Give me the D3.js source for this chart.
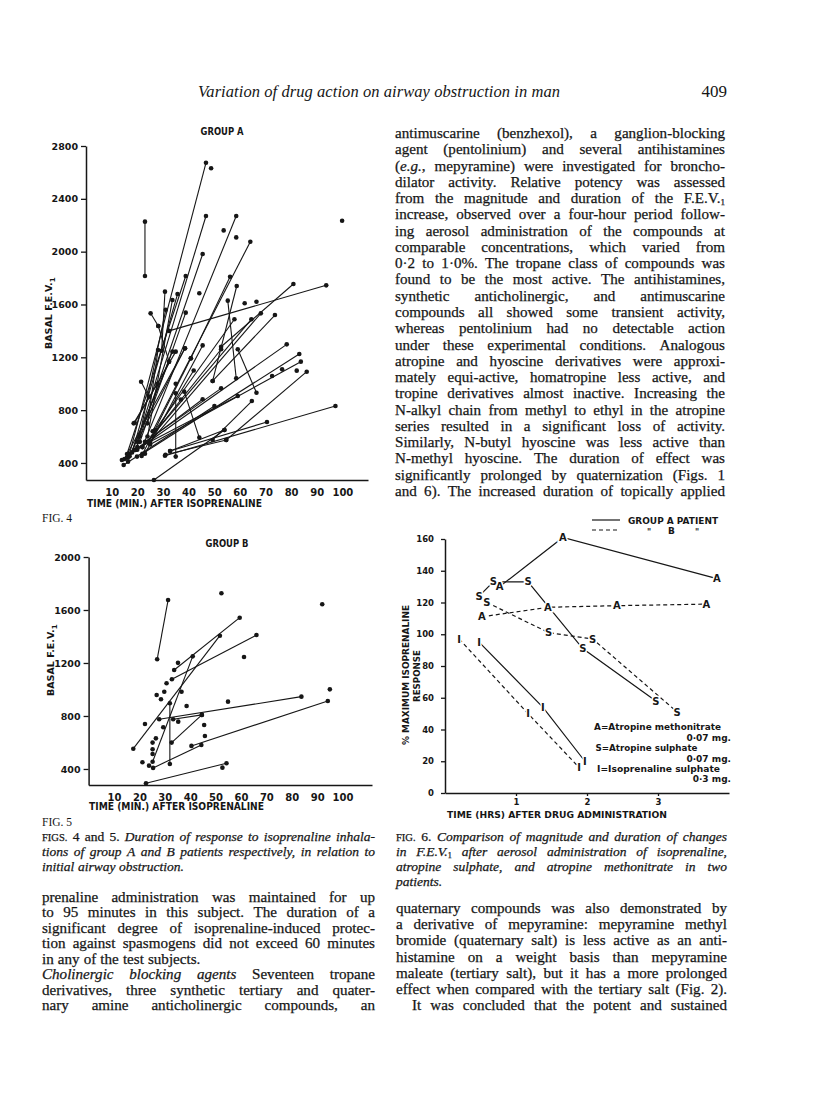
<!DOCTYPE html>
<html>
<head>
<meta charset="utf-8">
<script src="https://cdn.jsdelivr.net/npm/d3@7"></script>
<style>
  body { margin: 0; background: #fff; }
  svg { display: block; }
</style>
</head>
<body>
<div id="page"></div>
<script>
// ---- fig 4 : group A (time in min, basal FEV1 in ml) ----
const fig4YTicks = [400, 800, 1200, 1600, 2000, 2400, 2800];
const fig4XTicks = [10, 20, 30, 40, 50, 60, 70, 80, 90, 100];
const fig4Segments = [
  [23, 2227, 23, 1816], [17, 470, 46.8, 2673], [20, 560, 46.8, 2270],
  [22, 520, 58.6, 2270], [26, 640, 64.1, 2075], [19.3, 498, 45.5, 1982],
  [40.9, 1192, 56.2, 1810], [49.4, 1021, 58.8, 1740], [52.7, 1280, 80.9, 1755],
  [32.4, 1400, 93.7, 1745], [30.8, 1697, 29.5, 1250], [18, 480, 35.7, 1679],
  [16, 468, 38.9, 1816], [21, 560, 38.9, 1538], [33.7, 1634, 24, 600],
  [25.2, 1533, 28.2, 1437], [28.2, 1437, 32.4, 1167], [55.3, 1629, 58.6, 1041],
  [57.9, 1488, 27, 650], [64.5, 1488, 22, 520], [68.2, 1533, 25, 560],
  [73.7, 1520, 49.4, 1021], [59.2, 1261, 66.5, 932], [78.3, 1298, 20, 500],
  [83.2, 1225, 22, 470], [83.8, 1167, 25, 540], [86.1, 1091, 54.7, 574],
  [97.3, 831, 30.8, 455], [70.6, 710, 32.8, 491], [54, 650, 26.5, 271],
  [44.2, 592, 38.3, 940], [35, 448, 35, 927], [21.5, 1015, 24.5, 902],
  [64.7, 869, 49.4, 574], [59.2, 907, 19, 500], [14, 423, 45.5, 882],
  [14.7, 385, 50.1, 831], [16.4, 410, 33.7, 1243], [19, 705, 35, 1243],
  [21.7, 453, 40.9, 1192], [28.1, 1255, 24, 700], [38.6, 1268, 21, 600],
  [52.7, 965, 23, 560], [17, 450, 32.4, 1167], [32.8, 491, 54, 650],
  [31, 462, 54.7, 574], [15, 430, 38.6, 1268], [23, 470, 45.5, 1290],
  [20, 520, 31.1, 1560], [24, 560, 52.7, 1261], [18.6, 700, 27.8, 1000],
  [26, 600, 42, 1100]
];
const fig4Points = [
  [48.8, 2631], [53.7, 2161], [58.6, 2108], [44.2, 1685], [61.9, 1609],
  [99.9, 2234], [76.5, 1109], [72.6, 1059], [82.2, 1099], [66.5, 1621],
  [16, 440], [19.9, 448], [35, 1000], [37, 880]
];

// ---- fig 5 : group B ----
const fig5YTicks = [400, 800, 1200, 1600, 2000];
const fig5XTicks = [10, 20, 30, 40, 50, 60, 70, 80, 90, 100];
const fig5Segments = [
  [31.3, 1675, 27, 1228], [59.5, 1542, 33.7, 1147], [66.1, 1411, 32.8, 1077],
  [17.6, 553, 51.7, 1406], [25.2, 455, 41, 1250], [32, 896, 32, 438],
  [27.8, 775, 83.8, 946], [33.3, 775, 44.6, 808], [44.6, 808, 32.7, 599],
  [94.2, 913, 40.5, 574], [44.4, 581, 25.4, 408], [22.6, 292, 54.3, 443]
];
const fig5Points = [
  [52.3, 1726], [92, 1643], [35.2, 1201], [61.2, 1245], [30.7, 1047],
  [26.8, 958], [29.8, 983], [36.6, 983], [28.5, 926], [38.6, 875],
  [54.9, 908], [95, 1001], [22.2, 739], [35.3, 757], [45.5, 732],
  [29.4, 715], [26.5, 631], [25.2, 599], [45.8, 649], [25.2, 549],
  [25.2, 513], [21.2, 451], [23.8, 425], [52.7, 410]
];

// ---- fig 6 : % max isoprenaline response vs hours ----
const fig6YTicks = [0, 20, 40, 60, 80, 100, 120, 140, 160];
const fig6XTicks = [1, 2, 3];
const patientA_atropineMethonitrate = [[0.77, 130], [1.66, 161], [3.83, 135]];
const patientA_atropineSulphate = [[0.48, 124], [0.68, 133], [1.17, 133], [1.94, 91], [2.97, 58]];
const patientA_isoprenaline = [[0.48, 95], [1.38, 54], [1.97, 20]];
const patientB_atropineMethonitrate = [[0.52, 111], [1.45, 117], [2.42, 118], [3.68, 119]];
const patientB_atropineSulphate = [[0.59, 120], [1.46, 101], [2.08, 97], [3.27, 51]];
const patientB_isoprenaline = [[0.2, 97], [1.17, 50], [1.89, 16]];
const fig6Key = [
  ['A=Atropine methonitrate', '0·07 mg.'],
  ['S=Atropine sulphate', '0·07 mg.'],
  ['I=Isoprenaline sulphate', '0·3 mg.']
];

// ---- page text ----  *italic*  ~small caps~  _subscript_  ¶ = not justified  » = indent
const runningHead = 'Variation of drug action on airway obstruction in man';
const pageNumber = '409';
const rightTopText = [
  'antimuscarine (benzhexol), a ganglion-blocking',
  'agent (pentolinium) and several antihistamines',
  '(*e.g.*, mepyramine) were investigated for broncho-',
  'dilator activity. Relative potency was assessed',
  'from the magnitude and duration of the F.E.V._1_',
  'increase, observed over a four-hour period follow-',
  'ing aerosol administration of the compounds at',
  'comparable concentrations, which varied from',
  '0·2 to 1·0%. The tropane class of compounds was',
  'found to be the most active. The antihistamines,',
  'synthetic anticholinergic, and antimuscarine',
  'compounds all showed some transient activity,',
  'whereas pentolinium had no detectable action',
  'under these experimental conditions. Analogous',
  'atropine and hyoscine derivatives were approxi-',
  'mately equi-active, homatropine less active, and',
  'tropine derivatives almost inactive. Increasing the',
  'N-alkyl chain from methyl to ethyl in the atropine',
  'series resulted in a significant loss of activity.',
  'Similarly, N-butyl hyoscine was less active than',
  'N-methyl hyoscine. The duration of effect was',
  'significantly prolonged by quaternization (Figs. 1',
  'and 6). The increased duration of topically applied'
];
const leftCaption = [
  '~FIGS.~ 4 and 5. *Duration of response to isoprenaline inhala-*',
  '*tions of group A and B patients respectively, in relation to*',
  '*initial airway obstruction.*¶'
];
const leftBody = [
  'prenaline administration was maintained for up',
  'to 95 minutes in this subject. The duration of a',
  'significant degree of isoprenaline-induced protec-',
  'tion against spasmogens did not exceed 60 minutes',
  'in any of the test subjects.¶',
  '*Cholinergic blocking agents* Seventeen tropane',
  'derivatives, three synthetic tertiary and quater-',
  'nary amine anticholinergic compounds, an'
];
const rightCaption = [
  '~FIG.~ 6. *Comparison of magnitude and duration of changes*',
  '*in F.E.V.*_1_ *after aerosol administration of isoprenaline,*',
  '*atropine sulphate, and atropine methonitrate in two*',
  '*patients.*¶'
];
const rightBody = [
  'quaternary compounds was also demonstrated by',
  'a derivative of mepyramine: mepyramine methyl',
  'bromide (quaternary salt) is less active as an anti-',
  'histamine on a weight basis than mepyramine',
  'maleate (tertiary salt), but it has a more prolonged',
  'effect when compared with the tertiary salt (Fig. 2).',
  '»It was concluded that the potent and sustained'
];

const INK = '#161616';
const LET = '"DejaVu Sans", sans-serif';
const SERIF = '"Liberation Serif", "Times New Roman", serif';

const svg = d3.select('#page').append('svg').attr('width', 816).attr('height', 1112);
svg.append('rect').attr('width', 816).attr('height', 1112).attr('fill', '#fff');

// ---------- text helpers ----------
function parseWords(s) {
  let words = [], runs = [], buf = '', it = false, sc = false, sub = false;
  const flush = () => { if (buf) runs.push({ t: buf, it, sc, sub }); buf = ''; };
  for (const ch of s) {
    if (ch === '*') { flush(); it = !it; continue; }
    if (ch === '~') { flush(); sc = !sc; continue; }
    if (ch === '_') { flush(); sub = !sub; continue; }
    if (ch === ' ') { flush(); if (runs.length) words.push(runs); runs = []; continue; }
    buf += ch;
  }
  flush();
  if (runs.length) words.push(runs);
  return words;
}

function textBlock(lines, o) {
  lines.forEach((raw, i) => {
    let s = raw, just = o.justify, x0 = o.x, w = o.w;
    if (s.endsWith('¶')) { s = s.slice(0, -1); just = false; }
    if (s.startsWith('»')) { s = s.slice(1); x0 += o.indent; w -= o.indent; }
    const y = o.y0 + i * o.lh;
    const nodes = parseWords(s).map(runs => {
      const t = svg.append('text').attr('y', y).attr('fill', INK)
        .attr('stroke', INK).attr('stroke-width', 0.25)
        .style('font-family', SERIF).style('font-size', o.size + 'px');
      let shifted = false;
      runs.forEach(r => {
        const ts = t.append('tspan').text(r.t);
        if (r.it) ts.style('font-style', 'italic');
        if (r.sc) ts.style('font-size', (o.size * 0.78) + 'px');
        if (r.sub) { ts.style('font-size', (o.size * 0.6) + 'px').attr('dy', 2); shifted = true; }
        else if (shifted) { ts.attr('dy', -2); shifted = false; }
      });
      return { t, len: t.node().getComputedTextLength() };
    });
    const total = d3.sum(nodes, n => n.len);
    const minGap = o.size * 0.17;
    let gap = just && nodes.length > 1 ? (w - total) / (nodes.length - 1) : o.size * 0.27;
    let squeeze = 1;
    if (gap < minGap) {
      // too long for the measure: keep a minimum word space, tighten the words
      squeeze = (w - minGap * (nodes.length - 1)) / total;
      gap = minGap;
    }
    let x = x0;
    nodes.forEach(n => {
      n.t.attr('x', x);
      if (squeeze < 1) n.t.attr('textLength', n.len * squeeze).attr('lengthAdjust', 'spacingAndGlyphs');
      x += n.len * squeeze + gap;
    });
  });
}

function letter(g, txt, x, y, size, opts = {}) {
  const t = g.append('text').attr('x', x).attr('y', y).attr('fill', INK)
    .style('font-family', LET).style('font-weight', 'bold').style('font-size', size + 'px')
    .attr('text-anchor', opts.anchor || 'start').text(txt);
  if (opts.len) t.attr('textLength', opts.len).attr('lengthAdjust', 'spacingAndGlyphs');
  if (opts.rotate) t.attr('transform', `rotate(-90,${x},${y})`);
  return t;
}

function styleAxis(a, size) {
  a.attr('font-family', null).attr('font-size', null);
  a.selectAll('.domain').attr('stroke', INK).attr('stroke-width', 1.5);
  a.selectAll('.tick line').attr('stroke', INK).attr('stroke-width', 1.3);
  a.selectAll('.tick text').attr('fill', INK).style('font-family', LET)
    .style('font-weight', 'bold').style('font-size', size + 'px');
}

// ---------- running head ----------
svg.append('text').attr('x', 198).attr('y', 97).attr('fill', INK)
  .style('font-family', SERIF).style('font-style', 'italic').style('font-size', '16.5px')
  .attr('textLength', 362).attr('lengthAdjust', 'spacing').text(runningHead);
svg.append('text').attr('x', 727).attr('y', 97).attr('text-anchor', 'end').attr('fill', INK)
  .style('font-family', SERIF).style('font-size', '17px').text(pageNumber);

// ---------- scatter figures (4 and 5) ----------
function scatterFig(cfg) {
  const g = svg.append('g');
  const x = d3.scaleLinear().domain(cfg.xDomain).range(cfg.xRange);
  const y = d3.scaleLinear().domain(cfg.yDomain).range(cfg.yRange);

  const ya = g.append('g').attr('transform', `translate(${x(0)},0)`)
    .call(d3.axisLeft(y).tickValues(cfg.yTicks).tickFormat(d3.format('d'))
      .tickSize(5).tickSizeOuter(0).tickPadding(3));
  styleAxis(ya, 9.5);
  const xa = g.append('g').attr('transform', `translate(0,${y(cfg.yDomain[0])})`)
    .call(d3.axisBottom(x).tickValues(cfg.xTicks).tickFormat(d3.format('d'))
      .tickSize(0).tickSizeOuter(0).tickPadding(9));
  styleAxis(xa, 10);

  g.selectAll('line.seg').data(cfg.segments).join('line').attr('class', 'seg')
    .attr('x1', d => x(d[0])).attr('y1', d => y(d[1]))
    .attr('x2', d => x(d[2])).attr('y2', d => y(d[3]))
    .attr('stroke', INK).attr('stroke-width', 1.1);

  const dots = cfg.segments.flatMap(d => [[d[0], d[1]], [d[2], d[3]]]).concat(cfg.points);
  g.selectAll('circle').data(dots).join('circle')
    .attr('cx', d => x(d[0])).attr('cy', d => y(d[1])).attr('r', 2.3).attr('fill', INK);

  letter(g, cfg.title, cfg.titleX, cfg.titleY, 10, { anchor: 'middle', len: 43 });
  letter(g, 'TIME (MIN.) AFTER ISOPRENALINE', cfg.xTitleX, cfg.xTitleY, 10, { len: 175 });
  const yl = letter(g, 'BASAL F.E.V.', cfg.yTitleX, cfg.yTitleY, 9.5, { rotate: true });
  yl.append('tspan').attr('dy', 3).style('font-size', '7px').text('1');
  return g;
}

scatterFig({
  xDomain: [0, 110], xRange: [86, 368], yDomain: [271, 2800], yRange: [480, 146],
  xTicks: fig4XTicks, yTicks: fig4YTicks, segments: fig4Segments, points: fig4Points,
  title: 'GROUP A', titleX: 222, titleY: 135, xTitleX: 87, xTitleY: 507,
  yTitleX: 52, yTitleY: 349
});
scatterFig({
  xDomain: [0, 111.6], xRange: [88.6, 372], yDomain: [279, 2000], yRange: [785, 557],
  xTicks: fig5XTicks, yTicks: fig5YTicks, segments: fig5Segments, points: fig5Points,
  title: 'GROUP B', titleX: 227, titleY: 547, xTitleX: 89, xTitleY: 810,
  yTitleX: 54, yTitleY: 696
});

// ---------- fig 6 ----------
(function () {
  const g = svg.append('g');
  const x = d3.scaleLinear().domain([0, 4]).range([445, 729]);
  const y = d3.scaleLinear().domain([0, 160]).range([793, 539]);

  const ya = g.append('g').attr('transform', `translate(${x(0)},0)`)
    .call(d3.axisLeft(y).tickValues(fig6YTicks).tickFormat(d3.format('d'))
      .tickSize(4).tickSizeOuter(0).tickPadding(7));
  styleAxis(ya, 8.5);
  const xa = g.append('g').attr('transform', `translate(0,${y(0)})`)
    .call(d3.axisBottom(x).tickValues(fig6XTicks).tickFormat(d3.format('d'))
      .tickSize(3).tickSizeOuter(0).tickPadding(3));
  styleAxis(xa, 8.5);

  const line = d3.line().x(d => x(d[0])).y(d => y(d[1]));
  const series = [
    { pts: patientA_atropineMethonitrate, k: 'A', dash: null },
    { pts: patientA_atropineSulphate, k: 'S', dash: null },
    { pts: patientA_isoprenaline, k: 'I', dash: null },
    { pts: patientB_atropineMethonitrate, k: 'A', dash: '4,3' },
    { pts: patientB_atropineSulphate, k: 'S', dash: '4,3' },
    { pts: patientB_isoprenaline, k: 'I', dash: '4,3' }
  ];
  series.forEach(s => {
    g.append('path').attr('d', line(s.pts)).attr('fill', 'none').attr('stroke', INK)
      .attr('stroke-width', 1.2).attr('stroke-dasharray', s.dash);
  });
  series.forEach(s => {
    g.selectAll(null).data(s.pts).join('text')
      .attr('x', d => x(d[0])).attr('y', d => y(d[1])).attr('dy', '0.36em')
      .attr('text-anchor', 'middle').attr('fill', INK)
      .attr('stroke', '#fff').attr('stroke-width', 3).attr('paint-order', 'stroke')
      .style('font-family', LET).style('font-weight', 'bold').style('font-size', '10px')
      .text(s.k);
  });

  // legend
  g.append('line').attr('x1', 592).attr('x2', 620).attr('y1', 520).attr('y2', 520)
    .attr('stroke', INK).attr('stroke-width', 1.2);
  g.append('line').attr('x1', 592).attr('x2', 620).attr('y1', 530).attr('y2', 530)
    .attr('stroke', INK).attr('stroke-width', 1.2).attr('stroke-dasharray', '4,3');
  letter(g, 'GROUP A PATIENT', 628, 524, 9, { len: 90 });
  letter(g, '"', 647, 535, 8);
  letter(g, 'B', 668, 534, 9);
  letter(g, '"', 695, 535, 8);

  // key
  fig6Key.forEach((k, i) => {
    letter(g, k[0], 594 + i * 1.5, 730 + i * 21, 9, { len: [127, 102, 123][i] });
    letter(g, k[1], 731, 741 + i * 20.5, 9, { anchor: 'end' });
  });

  letter(g, 'TIME (HRS) AFTER DRUG ADMINISTRATION', 447, 818, 9.5, { len: 220 });
  letter(g, '% MAXIMUM ISOPRENALINE', 409, 745, 9, { rotate: true, len: 140 });
  letter(g, 'RESPONSE', 420, 702, 9, { rotate: true, len: 52 });
})();

// ---------- figure labels ----------
[['FIG. 4', 522], ['FIG. 5', 826]].forEach(d => {
  svg.append('text').attr('x', 42).attr('y', d[1]).attr('fill', INK)
    .style('font-family', SERIF).style('font-size', '11.5px').text(d[0]);
});

// ---------- body text ----------
textBlock(rightTopText, { x: 395, w: 330, y0: 138, lh: 16.27, size: 15.1, justify: true });
textBlock(leftCaption, { x: 42, w: 333, y0: 841, lh: 15, size: 13.5, justify: true });
textBlock(leftBody, { x: 42, w: 333, y0: 901.5, lh: 15.5, size: 15.1, justify: true });
textBlock(rightCaption, { x: 396, w: 331, y0: 841, lh: 15, size: 13.5, justify: true });
textBlock(rightBody, { x: 396, w: 331, y0: 913, lh: 16.2, size: 15.1, justify: true, indent: 16 });
</script>
</body>
</html>
